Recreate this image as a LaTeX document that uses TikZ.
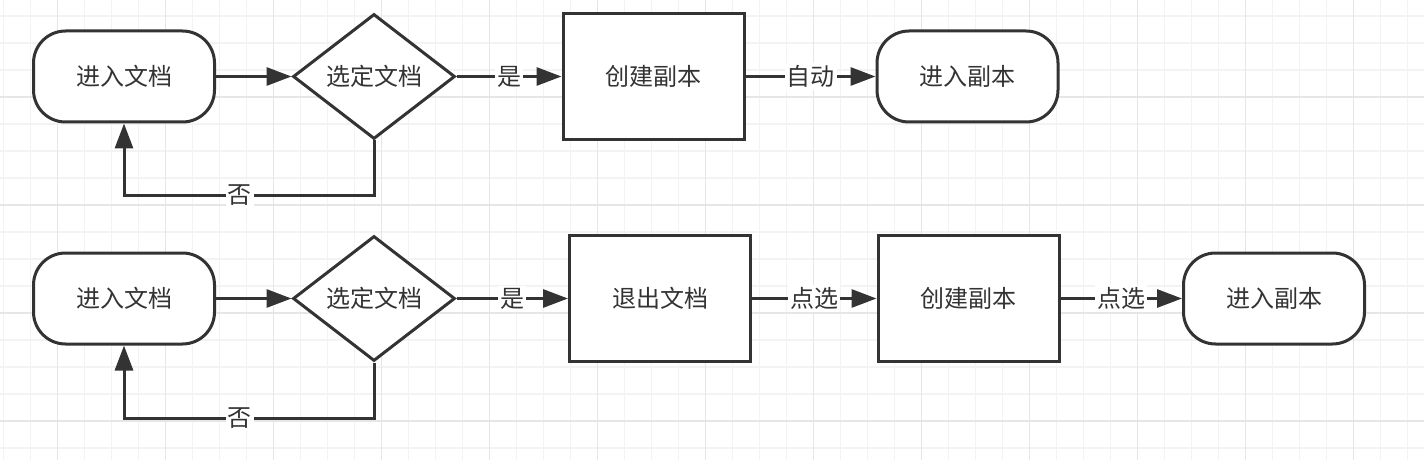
\documentclass[tikz,border=0pt]{standalone}
\usepackage{fontspec}
\setmainfont{Noto Sans CJK SC}
\usetikzlibrary{shapes.geometric,arrows.meta}
\definecolor{ink}{HTML}{333333}
\definecolor{gridminor}{HTML}{F3F3F3}
\definecolor{gridmajor}{HTML}{E6E6E6}

\begin{document}
\begin{tikzpicture}[x=0.5pt,y=-0.5pt,
    font=\fontsize{12}{14}\selectfont, text=ink,
    terminal/.style={draw=ink, fill=white, line width=1.5pt, rounded corners=16pt,
        minimum width=90.5pt, minimum height=45.5pt},
    process/.style={draw=ink, fill=white, line width=1.5pt,
        minimum width=90.5pt, minimum height=63pt},
    decision/.style={draw=ink, fill=white, line width=1.5pt, diamond, inner sep=0pt,
        minimum width=81pt, minimum height=62.5pt},
    flow/.style={draw=ink, line width=1.5pt, -{Triangle[length=12.5pt,width=9pt]}},
    lbl/.style={fill=white, inner sep=1pt}]
    \useasboundingbox (0,0) rectangle (1424,460);
    \fill[white] (0,0) rectangle (1424,460);
    % background grid
    \foreach \i in {0,...,52}
        \draw[gridminor, line width=0.75pt] ({3.3+27*\i},0) -- ({3.3+27*\i},460);
    \foreach \j in {0,...,16}
        \draw[gridminor, line width=0.75pt] (0,{16+27*\j}) -- (1424,{16+27*\j});
    \foreach \i in {0,...,12}
        \draw[gridmajor, line width=0.75pt] ({57.3+108*\i},0) -- ({57.3+108*\i},460);
    \foreach \j in {0,...,3}
        \draw[gridmajor, line width=0.75pt] (0,{97+108*\j}) -- (1424,{97+108*\j});

    % first flow
    \node[terminal] (start1) at (124,76.5) {进入文档};
    \node[decision] (pick1) at (374,76.5) {选定文档};
    \node[process] (copy1) at (653.5,76.5) {创建副本};
    \node[terminal] (enter1) at (967.5,76.5) {进入副本};
    \draw[flow] (start1) -- (pick1);
    \draw[flow] (pick1) -- node[lbl]{是} (copy1);
    \draw[flow] (copy1) -- node[lbl]{自动} (enter1);
    \draw[flow] (pick1.south) -- ++(0,55) -| node[lbl,pos=0.268]{否} (start1.south);

    % second flow
    \node[terminal] (start2) at (124,298.5) {进入文档};
    \node[decision] (pick2) at (374,298.5) {选定文档};
    \node[process] (quit2) at (660,298.5) {退出文档};
    \node[process] (copy2) at (968.5,298.5) {创建副本};
    \node[terminal] (enter2) at (1274,298.5) {进入副本};
    \draw[flow] (start2) -- (pick2);
    \draw[flow] (pick2) -- node[lbl]{是} (quit2);
    \draw[flow] (quit2) -- node[lbl]{点选} (copy2);
    \draw[flow] (copy2) -- node[lbl]{点选} (enter2);
    \draw[flow] (pick2.south) -- ++(0,56) -| node[lbl,pos=0.268]{否} (start2.south);
\end{tikzpicture}
\end{document}
